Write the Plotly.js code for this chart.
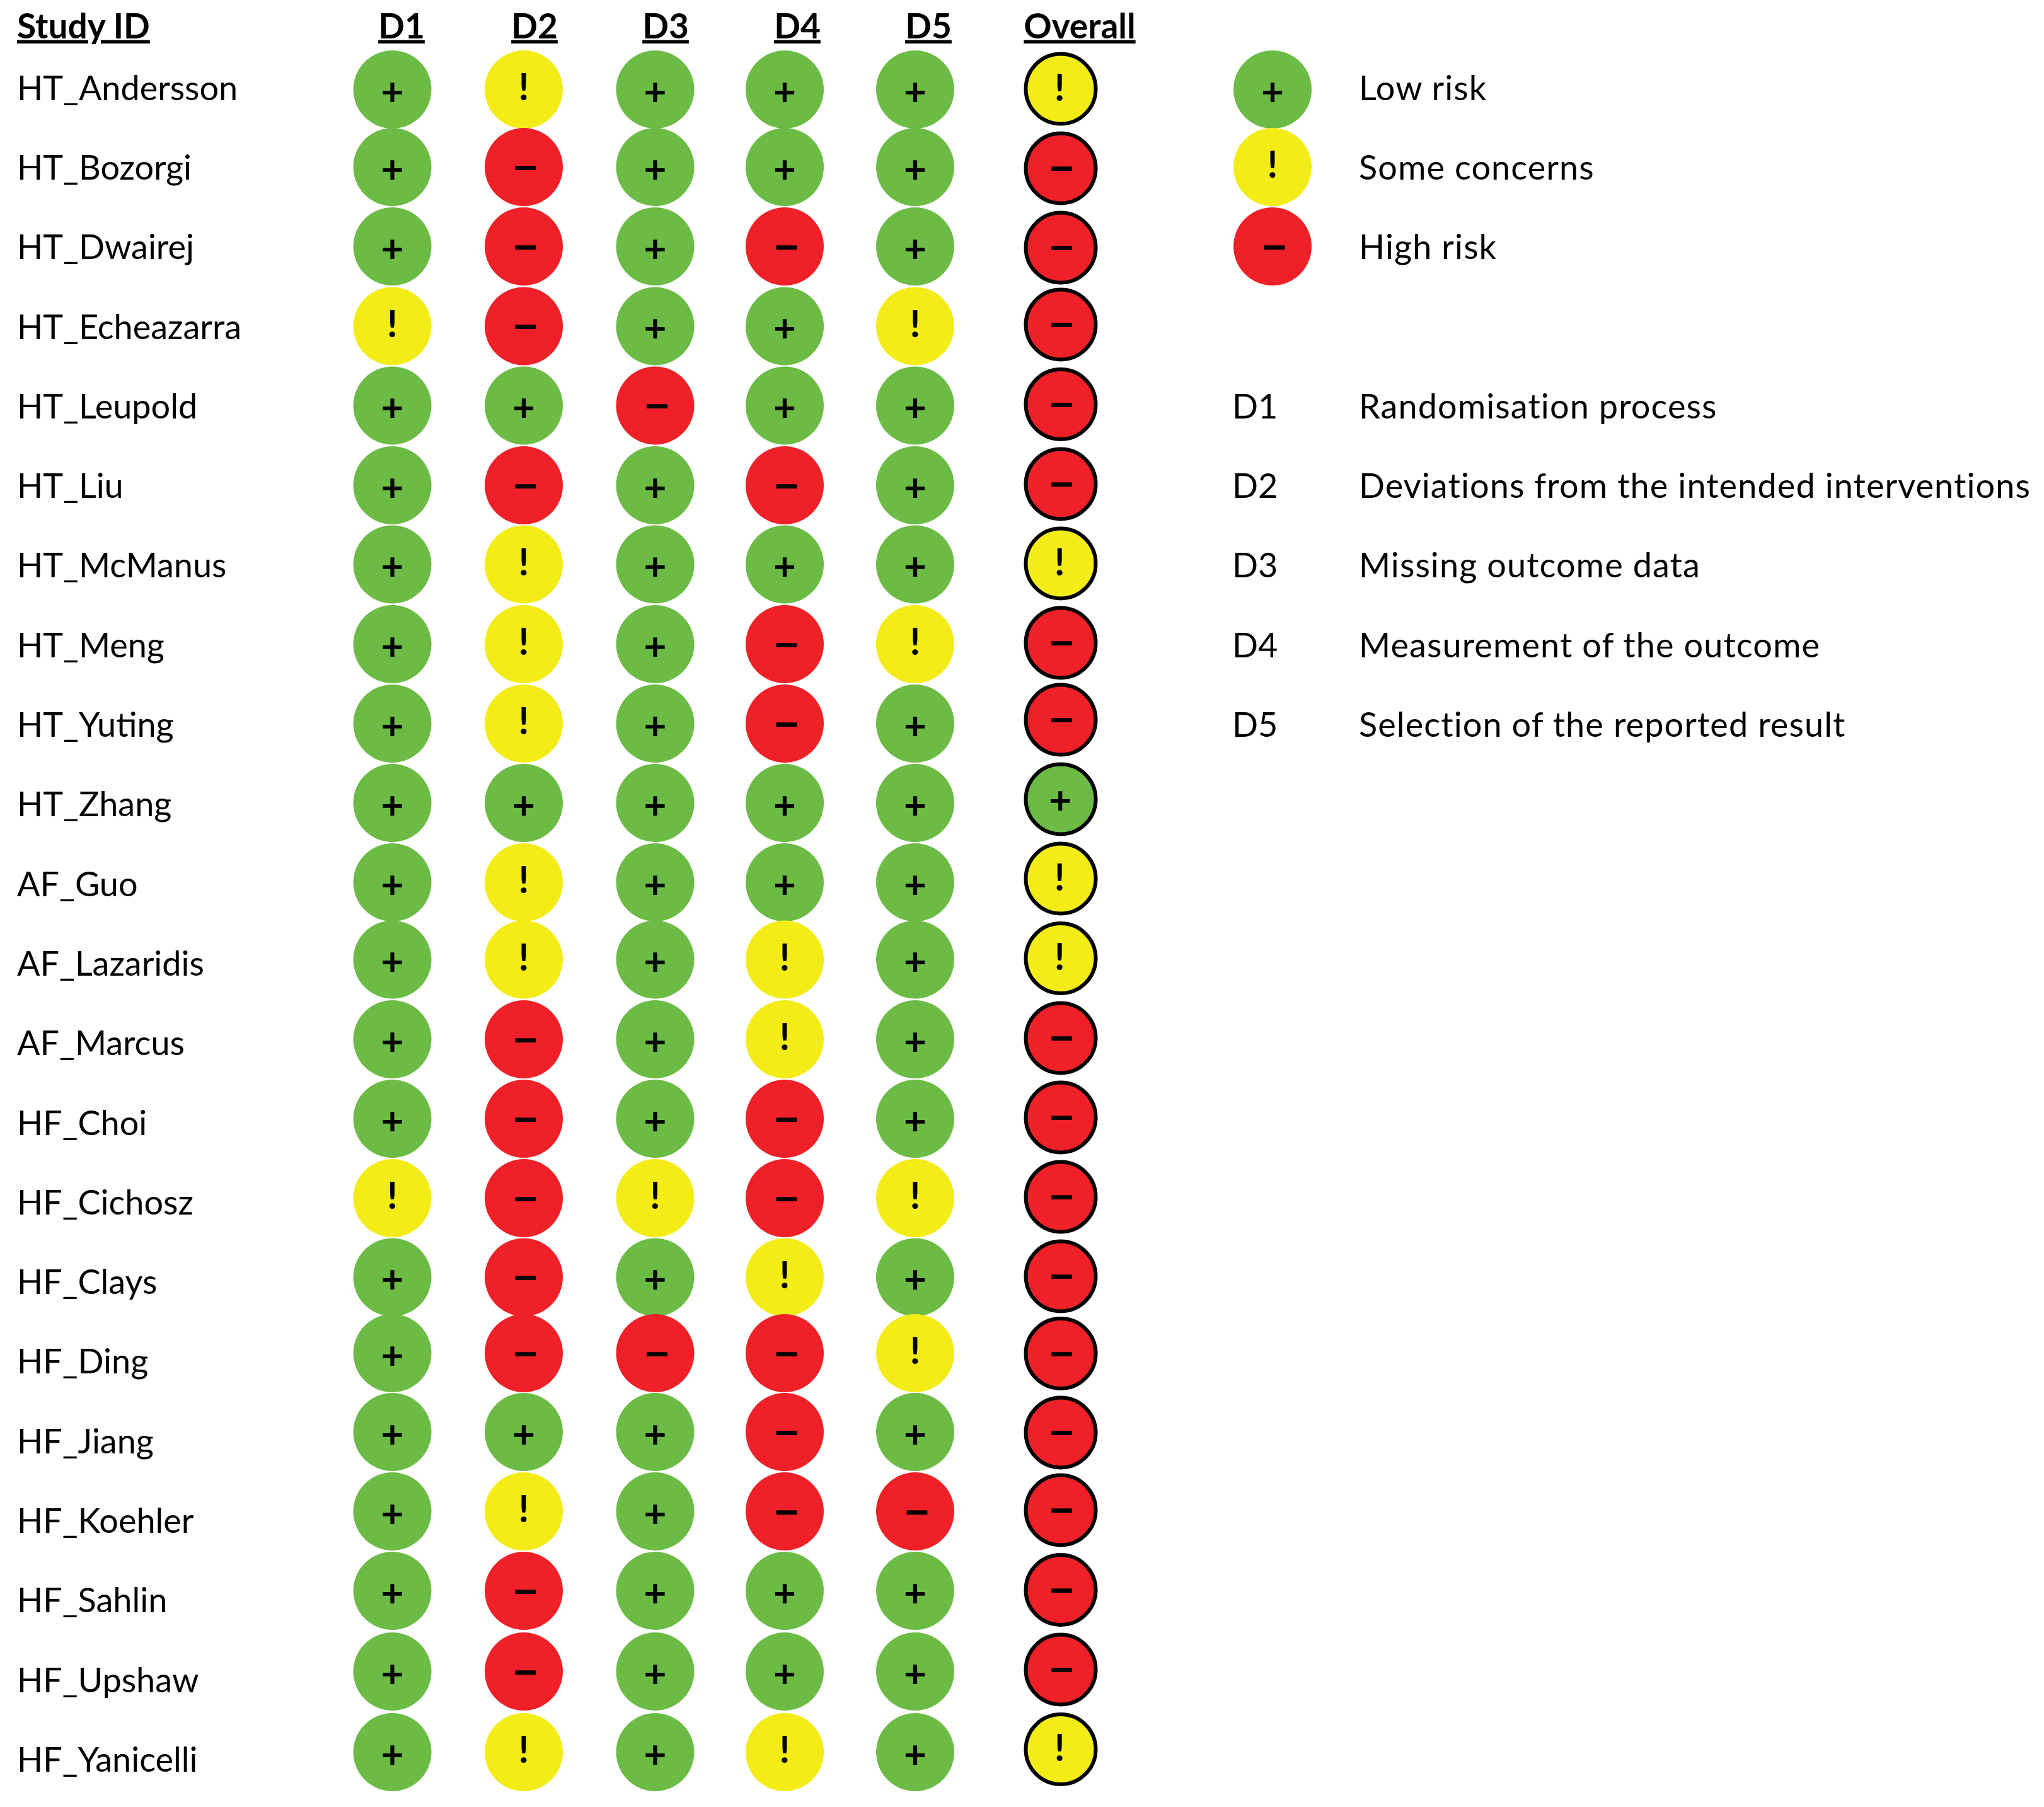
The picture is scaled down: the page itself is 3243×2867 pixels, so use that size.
<!DOCTYPE html>
<html><head><meta charset="utf-8">
<script src="https://cdn.plot.ly/plotly-3.0.1.min.js"></script>
<style>html,body{margin:0;padding:0;background:#fff}</style></head>
<body><div id="chart" style="width:3243px;height:2867px"></div>
<script>
// ---- data ----
const studies = ["HT_Andersson","HT_Bozorgi","HT_Dwairej","HT_Echeazarra","HT_Leupold","HT_Liu","HT_McManus","HT_Meng","HT_Yuting","HT_Zhang","AF_Guo","AF_Lazaridis","AF_Marcus","HF_Choi","HF_Cichosz","HF_Clays","HF_Ding","HF_Jiang","HF_Koehler","HF_Sahlin","HF_Upshaw","HF_Yanicelli"];
const domains = ["D1","D2","D3","D4","D5"];
const d1 = ["L","L","L","S","L","L","L","L","L","L","L","L","L","L","S","L","L","L","L","L","L","L"];
const d2 = ["S","H","H","H","L","H","S","S","S","L","S","S","H","H","H","H","H","L","S","H","H","S"];
const d3 = ["L","L","L","L","H","L","L","L","L","L","L","L","L","L","S","L","H","L","L","L","L","L"];
const d4 = ["L","L","H","L","L","H","L","H","H","L","L","S","S","H","H","S","H","H","H","L","L","S"];
const d5 = ["L","L","L","S","L","L","L","S","L","L","L","L","L","L","S","L","S","L","H","L","L","L"];
const overall = ["S","H","H","H","H","H","S","H","H","L","S","S","H","H","H","H","H","H","H","H","H","S"];
const legendRisk = ["L","S","H"];
const legendLabels = ["Low risk","Some concerns","High risk"];
const domainLabels = ["Randomisation process","Deviations from the intended interventions","Missing outcome data","Measurement of the outcome","Selection of the reported result"];

// ---- layout helpers ----
const W = 3243, H = 2867;
const colX = [622.5,831,1039.5,1245,1452];
const overallX = 1683, legendX = 2019, keyX = 1955, keyTextX = 2156, studyX = 27;
const headerX = [637,848,1056,1265,1473], overallHeaderX = 1713;
const rowY = [142,265,391,517.5,643.5,770,895.5,1022,1148,1274,1400,1522.5,1649,1775,1901,2026.5,2147,2272,2398,2524,2652,2780];
const overallY = [141,267,393,515,641.5,768,894,1020,1142,1268,1394,1520.5,1647,1773,1899,2025,2147.5,2273,2396,2522.5,2649,2775.5];
const baseFirst = 159.3, basePitch = 126.3;
const FONT = "Lato", TS = 54, HS = 55;
const textShift = -0.3 * TS + 2;
const textY = studies.map((_, i) => baseFirst + i * basePitch + textShift);

const COLORS = {L:"#6CBB45", S:"#F3EC17", H:"#EF2027"};
const GLYPH = {L:"+", S:"!", H:"−"};
const GSIZE = {L:62, S:60, H:74};
const GOFF = {L:[0,9], S:[0,2], H:[3,8]};
const GOFF_OVERALL = {L:[-0.7,7.5], S:[-1.7,3.5], H:[1.7,7.5]};
const spaced = s => '<span style="letter-spacing:1.1px">' + s + '</span>';

const traces = [];
function circles(xs, ys, risks, size, lineW, off) {
  traces.push({type:"scatter", mode:"markers", x:xs, y:ys, hoverinfo:"skip", showlegend:false, cliponaxis:false,
    marker:{symbol:"circle", size:size, color:risks.map(r => COLORS[r]), line:{color:"#000", width:lineW}}});
  for (const k of ["L","S","H"]) {
    const idx = risks.map((r,i) => r===k ? i : -1).filter(i => i>=0);
    if (!idx.length) continue;
    traces.push({type:"scatter", mode:"text", x:idx.map(i => xs[i]+off[k][0]), y:idx.map(i => ys[i]+off[k][1]),
      text:idx.map(() => GLYPH[k]), textposition:"middle center", hoverinfo:"skip", showlegend:false, cliponaxis:false,
      textfont:{family:FONT, size:GSIZE[k], color:"#000", weight:700}});
  }
}
function labels(xs, ys, txt, pos, font) {
  traces.push({type:"scatter", mode:"text", x:xs, y:ys, text:txt, textposition:pos, hoverinfo:"skip", showlegend:false, cliponaxis:false, textfont:font});
}
[d1,d2,d3,d4,d5].forEach((col,j) => circles(studies.map(()=>colX[j]), rowY, col, 124, 0, GOFF));
circles(studies.map(()=>overallX), overallY, overall, 111, 6, GOFF_OVERALL);
circles(legendRisk.map(()=>legendX), rowY.slice(0,3), legendRisk, 124, 0, GOFF);

const reg = {family:FONT, size:TS, color:"#000"};
const bold = {family:FONT, size:HS, color:"#000", weight:700, lineposition:"under"};
labels(studies.map(()=>studyX), textY, studies, "middle right", reg);
labels(legendLabels.map(()=>keyTextX), textY.slice(0,3), legendLabels.map(spaced), "middle right", reg);
labels(domains.map(()=>keyX), textY.slice(4,9), domains, "middle right", reg);
labels(domains.map(()=>keyTextX), textY.slice(4,9), domainLabels.map(spaced), "middle right", reg);
const hy = 61 + textShift;
labels([27], [hy], ["Study ID"], "middle right", bold);
labels(headerX.concat([overallHeaderX]), headerX.concat([0]).map(()=>hy), domains.concat(["Overall"]), "middle center", bold);

Plotly.newPlot("chart", traces, {
  width:W, height:H, margin:{l:0,r:0,t:0,b:0}, paper_bgcolor:"#fff", plot_bgcolor:"#fff", showlegend:false,
  xaxis:{range:[0,W], visible:false, fixedrange:true},
  yaxis:{range:[H,0], visible:false, fixedrange:true}
}, {displayModeBar:false, staticPlot:true});
</script></body></html>
